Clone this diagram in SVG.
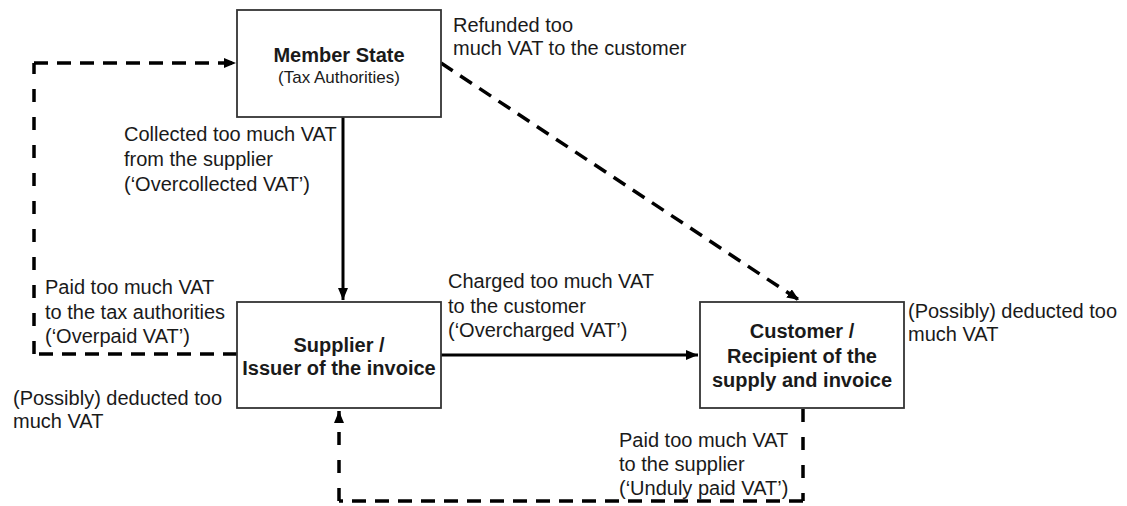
<svg xmlns="http://www.w3.org/2000/svg" width="1127" height="506" viewBox="0 0 1127 506">
  <style>
    .box { fill: #ffffff; stroke: #333333; stroke-width: 1.8; }
    .title { font-family: "Liberation Sans", Arial, sans-serif; font-size: 20px; font-weight: bold; fill: #1a1a1a; text-anchor: middle; }
    .sub { font-family: "Liberation Sans", Arial, sans-serif; font-size: 17px; fill: #1a1a1a; text-anchor: middle; }
    .lbl { font-family: "Liberation Sans", Arial, sans-serif; font-size: 20px; fill: #1a1a1a; }
    .solid { fill: none; stroke: #000000; stroke-width: 3; }
    .dash { fill: none; stroke: #000000; stroke-width: 3.5; stroke-dasharray: 14 9; }
    .vdash { fill: none; stroke: #000000; stroke-width: 3.5; stroke-dasharray: 13 15; }
  </style>
  <defs>
    <marker id="arr" markerUnits="userSpaceOnUse" markerWidth="12" markerHeight="10" refX="12" refY="5" orient="auto">
      <path d="M0,0 L12,5 L0,10 z" fill="#000000"/>
    </marker>
  </defs>

  <g id="connectors">
    <path class="solid" d="M343,117 L343,300" marker-end="url(#arr)"/>
    <path class="solid" d="M441,355 L698,355" marker-end="url(#arr)"/>
    <path class="dash" d="M237,354 L34,354"/>
    <path class="vdash" d="M34,354 L34,63"/>
    <path class="dash" d="M34,63 L236,63" marker-end="url(#arr)"/>
    <path class="dash" d="M441,63 L799,300" marker-end="url(#arr)"/>
    <path class="vdash" d="M803,409 L803,501"/>
    <path class="dash" d="M803,501 L339,501"/>
    <path class="vdash" d="M339,501 L339,411" marker-end="url(#arr)"/>
  </g>

  <g id="member-state">
    <rect class="box" x="237" y="10" width="204" height="107"/>
    <text class="title" x="339" y="62">Member State</text>
    <text class="sub" x="339" y="83">(Tax Authorities)</text>
  </g>

  <g id="supplier">
    <rect class="box" x="237" y="302" width="204" height="106"/>
    <text class="title" x="339" y="352">Supplier /</text>
    <text class="title" x="339" y="375">Issuer of the invoice</text>
  </g>

  <g id="customer">
    <rect class="box" x="700" y="302" width="204" height="106"/>
    <text class="title" x="802" y="338">Customer /</text>
    <text class="title" x="802" y="363">Recipient of the</text>
    <text class="title" x="802" y="387">supply and invoice</text>
  </g>

  <g id="labels">
    <text class="lbl" x="453" y="32">Refunded too</text>
    <text class="lbl" x="453" y="55">much VAT to the customer</text>

    <text class="lbl" x="124" y="141">Collected too much VAT</text>
    <text class="lbl" x="124" y="166">from the supplier</text>
    <text class="lbl" x="124" y="191">(‘Overcollected VAT’)</text>

    <text class="lbl" x="45" y="294">Paid too much VAT</text>
    <text class="lbl" x="45" y="319">to the tax authorities</text>
    <text class="lbl" x="45" y="343">(‘Overpaid VAT’)</text>

    <text class="lbl" x="13" y="405">(Possibly) deducted too</text>
    <text class="lbl" x="13" y="428">much VAT</text>

    <text class="lbl" x="448" y="288">Charged too much VAT</text>
    <text class="lbl" x="448" y="313">to the customer</text>
    <text class="lbl" x="448" y="337">(‘Overcharged VAT’)</text>

    <text class="lbl" x="908" y="318">(Possibly) deducted too</text>
    <text class="lbl" x="908" y="341">much VAT</text>

    <text class="lbl" x="619" y="447">Paid too much VAT</text>
    <text class="lbl" x="619" y="471">to the supplier</text>
    <text class="lbl" x="619" y="495">(‘Unduly paid VAT’)</text>
  </g>
</svg>
